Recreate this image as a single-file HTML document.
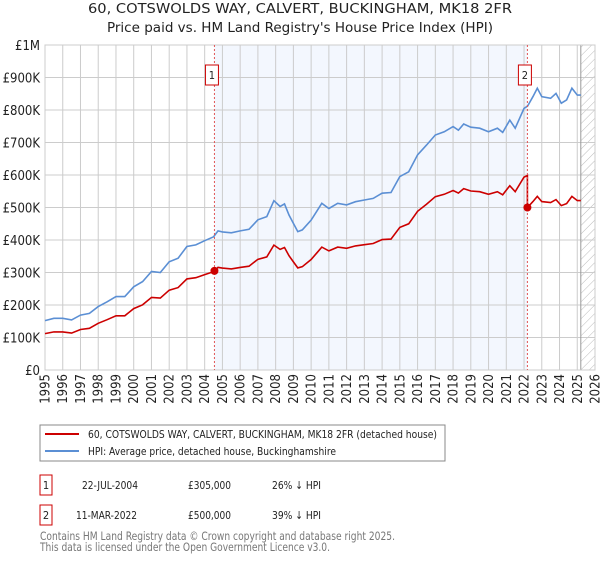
<!DOCTYPE html>
<html><head><meta charset="utf-8"><style>
body{margin:0;background:#fff;width:600px;height:560px;overflow:hidden;font-family:"DejaVu Sans","Liberation Sans",sans-serif}
svg text{font-family:"DejaVu Sans Condensed","DejaVu Sans","Liberation Sans",sans-serif}
</style></head><body>
<svg id="chart" width="600" height="560" xmlns="http://www.w3.org/2000/svg">
<text x="88" y="13" font-size="13" fill="#222" textLength="424" lengthAdjust="spacingAndGlyphs">60, COTSWOLDS WAY, CALVERT, BUCKINGHAM, MK18 2FR</text>
<text x="107" y="32" font-size="13" fill="#222" textLength="386" lengthAdjust="spacingAndGlyphs">Price paid vs. HM Land Registry's House Price Index (HPI)</text>
<g id="plot"></g>
<g>
<rect x="40" y="425" width="405" height="36" fill="#fff" stroke="#888"/>
<line x1="45" y1="434" x2="79" y2="434" stroke="#cc0000" stroke-width="2"/>
<text x="88" y="438" font-size="11" fill="#222" textLength="349" lengthAdjust="spacingAndGlyphs">60, COTSWOLDS WAY, CALVERT, BUCKINGHAM, MK18 2FR (detached house)</text>
<line x1="45" y1="451" x2="79" y2="451" stroke="#5b8fd4" stroke-width="2"/>
<text x="88" y="455" font-size="11" fill="#222" textLength="248" lengthAdjust="spacingAndGlyphs">HPI: Average price, detached house, Buckinghamshire</text>
</g>
<g font-size="11" fill="#222">
<rect x="40" y="475" width="12" height="20" fill="#fff" stroke="#cc0000"/><text x="46" y="489" text-anchor="middle">1</text>
<text x="82" y="489" textLength="56" lengthAdjust="spacingAndGlyphs">22-JUL-2004</text><text x="188" y="489" textLength="43" lengthAdjust="spacingAndGlyphs">£305,000</text><text x="272" y="489" textLength="49" lengthAdjust="spacingAndGlyphs">26% ↓ HPI</text>
<rect x="40" y="505" width="12" height="20" fill="#fff" stroke="#cc0000"/><text x="46" y="519" text-anchor="middle">2</text>
<text x="76" y="519" textLength="61" lengthAdjust="spacingAndGlyphs">11-MAR-2022</text><text x="188" y="519" textLength="43" lengthAdjust="spacingAndGlyphs">£500,000</text><text x="272" y="519" textLength="49" lengthAdjust="spacingAndGlyphs">39% ↓ HPI</text>
</g>
<text x="40" y="540" font-size="11.5" fill="#777" textLength="355" lengthAdjust="spacingAndGlyphs">Contains HM Land Registry data © Crown copyright and database right 2025.</text>
<text x="40" y="551" font-size="11.5" fill="#777" textLength="290" lengthAdjust="spacingAndGlyphs">This data is licensed under the Open Government Licence v3.0.</text>
</svg>
<script>
const hpiYears=[1995,1995.5,1996,1996.5,1997,1997.5,1998,1998.5,1999,1999.5,2000,2000.5,2001,2001.5,2002,2002.5,2003,2003.5,2004,2004.5,2004.75,2005,2005.5,2006,2006.5,2007,2007.5,2007.9,2008.25,2008.5,2008.75,2009,2009.25,2009.5,2010,2010.3,2010.6,2011,2011.5,2012,2012.5,2013,2013.5,2014,2014.5,2015,2015.5,2016,2016.5,2017,2017.5,2018,2018.3,2018.6,2019,2019.5,2020,2020.5,2020.8,2021.2,2021.5,2022,2022.2,2022.5,2022.75,2023,2023.5,2023.8,2024.1,2024.4,2024.7,2025,2025.2];
const hpiValues=[152,159,159,154,169,174,195,210,226,226,256,272,303,300,333,344,380,385,398,410,428,425,422,428,433,462,472,521,503,511,477,451,426,431,461,487,513,497,513,508,518,523,528,544,546,595,610,662,692,723,733,749,738,757,747,744,733,744,731,769,744,805,812,841,867,841,836,851,821,831,867,846,846];
const saleYears=[2004.55,2022.19];
const salePrices=[305,500];
const saleLabels=["1","2"];
const yTicks=[0,100,200,300,400,500,600,700,800,900,1000];
const yTickLabels=["£0","£100K","£200K","£300K","£400K","£500K","£600K","£700K","£800K","£900K","£1M"];
const xTicks=[1995,1996,1997,1998,1999,2000,2001,2002,2003,2004,2005,2006,2007,2008,2009,2010,2011,2012,2013,2014,2015,2016,2017,2018,2019,2020,2021,2022,2023,2024,2025,2026];
const L=45,R=595,T=45,B=370,x0=1995,x1=2026,dataEnd=2025.2;
const X=y=>L+(y-x0)/(x1-x0)*(R-L);
const Y=v=>B-v/1000*(B-T);
const NS="http://www.w3.org/2000/svg";
const g=document.getElementById('plot');
function el(t,a){const e=document.createElementNS(NS,t);for(const k in a)e.setAttribute(k,a[k]);g.appendChild(e);return e;}
let e;
e=el('rect',{x:X(saleYears[0]),y:T,width:X(saleYears[1])-X(saleYears[0]),height:B-T,fill:'#eef3fd',opacity:0.7});


const defs=document.createElementNS(NS,'defs');defs.innerHTML='<pattern id="hatch" width="6" height="6" patternUnits="userSpaceOnUse" patternTransform="rotate(45)"><line x1="0" y1="0" x2="0" y2="6" stroke="#bbb" stroke-width="1"/></pattern>';g.appendChild(defs);
e=el('rect',{x:X(dataEnd),y:T,width:R-X(dataEnd),height:B-T,fill:'url(#hatch)'});


yTicks.forEach((v,i)=>{
 e=el('line',{x1:L,x2:R,y1:Y(v),y2:Y(v),stroke:'#ccc'});
 
 
 e=el('text',{x:40,y:Y(v)+5,'text-anchor':'end','font-size':13,fill:'#222'});e.textContent=yTickLabels[i];
 
 
});
xTicks.forEach(t=>{
 e=el('line',{x1:X(t),x2:X(t),y1:T,y2:B,stroke:'#ccc'});
 
 
 e=el('text',{x:0,y:0,'text-anchor':'end','font-size':13,fill:'#222',transform:`translate(${X(t)+4.5},374) rotate(-90)`});e.textContent=t;
 
 
});
e=el('line',{x1:X(dataEnd),x2:X(dataEnd),y1:T,y2:B,stroke:'#999','stroke-width':1});


e=el('rect',{x:L,y:T,width:R-L,height:B-T,fill:'none',stroke:'#ccc'});


function interp(yr){for(let i=0;i<hpiYears.length-1;i++){if(yr<=hpiYears[i+1]){const f=(yr-hpiYears[i])/(hpiYears[i+1]-hpiYears[i]);return hpiValues[i]+f*(hpiValues[i+1]-hpiValues[i]);}}return hpiValues[hpiValues.length-1];}
const r1=salePrices[0]/interp(saleYears[0]),r2=salePrices[1]/interp(saleYears[1]);
let hp='',rp='';
hpiYears.forEach((yr,i)=>{hp+=(i?'L':'M')+X(yr).toFixed(1)+','+Y(hpiValues[i]).toFixed(1);});
let first=true;
hpiYears.forEach((yr,i)=>{if(yr<saleYears[1]){rp+=(first?'M':'L')+X(yr).toFixed(1)+','+Y(hpiValues[i]*r1).toFixed(1);first=false;}});
rp+='L'+X(saleYears[1]).toFixed(1)+','+Y(interp(saleYears[1])*r1).toFixed(1)+'L'+X(saleYears[1]).toFixed(1)+','+Y(salePrices[1]).toFixed(1);
hpiYears.forEach((yr,i)=>{if(yr>saleYears[1])rp+='L'+X(yr).toFixed(1)+','+Y(hpiValues[i]*r2).toFixed(1);});
e=el('path',{d:hp,fill:'none',stroke:'#5b8fd4','stroke-width':1.6});


e=el('path',{d:rp,fill:'none',stroke:'#cc0000','stroke-width':1.6});


saleYears.forEach((yr,i)=>{
 e=el('line',{x1:X(yr),x2:X(yr),y1:T,y2:B,stroke:'#e05555','stroke-dasharray':'2,2'});
 
 
 e=el('circle',{cx:X(yr),cy:Y(salePrices[i]),r:4,fill:'#cc0000'});
 
 
 e=el('rect',{x:X(yr)-9,y:65,width:13,height:20,fill:'#fff',stroke:'#cc0000'});
 
 
 e=el('text',{x:X(yr)-2.5,y:79,'text-anchor':'middle','font-size':11,fill:'#222'});e.textContent=saleLabels[i];
 
 
});
</script>
</body></html>
